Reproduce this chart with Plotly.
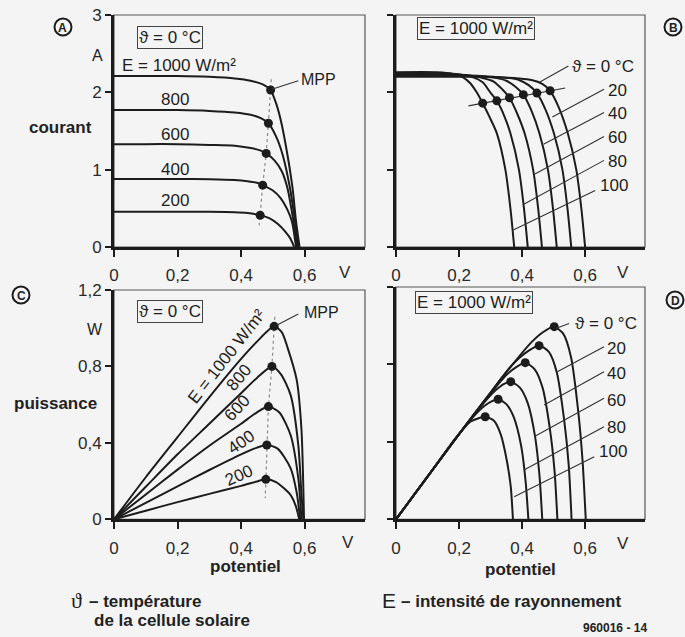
import plotly.graph_objects as go

FONT = "Liberation Sans, Arial, Helvetica, sans-serif"
BG = "#f4f4f4"
INK = "#1c1c1c"
W, H = 685, 637

# ---------------- Panel A : current vs voltage, theta = 0 °C ----------------
a_labels = ["E = 1000 W/m²", "800", "600", "400", "200"]
a_v_1000 = [0, 0.1, 0.2, 0.3, 0.38, 0.43, 0.47, 0.493, 0.51, 0.526, 0.546, 0.562, 0.573, 0.584]
a_i_1000 = [2.21, 2.21, 2.21, 2.2, 2.18, 2.15, 2.1, 2.03, 1.86, 1.62, 1.19, 0.76, 0.33, 0]
a_v_800 = [0, 0.1, 0.2, 0.3, 0.38, 0.43, 0.465, 0.486, 0.51, 0.531, 0.554, 0.57, 0.58]
a_i_800 = [1.77, 1.77, 1.77, 1.76, 1.74, 1.71, 1.66, 1.6, 1.43, 1.19, 0.76, 0.33, 0]
a_v_600 = [0, 0.1, 0.2, 0.3, 0.38, 0.43, 0.46, 0.479, 0.505, 0.528, 0.546, 0.565, 0.577]
a_i_600 = [1.33, 1.33, 1.33, 1.32, 1.31, 1.28, 1.25, 1.21, 1.12, 0.98, 0.76, 0.33, 0]
a_v_400 = [0, 0.1, 0.2, 0.3, 0.38, 0.42, 0.45, 0.468, 0.5, 0.525, 0.545, 0.56, 0.573]
a_i_400 = [0.88, 0.88, 0.88, 0.875, 0.865, 0.85, 0.83, 0.80, 0.73, 0.63, 0.49, 0.33, 0]
a_v_200 = [0, 0.1, 0.2, 0.3, 0.38, 0.42, 0.46, 0.49, 0.515, 0.539, 0.555, 0.567]
a_i_200 = [0.457, 0.457, 0.457, 0.455, 0.45, 0.44, 0.41, 0.37, 0.3, 0.2, 0.11, 0]
a_mpp_v = [0.493, 0.486, 0.479, 0.468, 0.46]
a_mpp_i = [2.03, 1.6, 1.21, 0.80, 0.41]
a_locus_v = [0.495, 0.493, 0.486, 0.479, 0.468, 0.46, 0.457]
a_locus_i = [2.17, 2.03, 1.6, 1.21, 0.80, 0.41, 0.28]

# ---------------- Panel B : current vs voltage, E = 1000 W/m² ----------------
b_labels = ["ϑ = 0 °C", "20", "40", "60", "80", "100"]
b_v_0 = [0, 0.25, 0.35, 0.39, 0.43, 0.464, 0.489, 0.517, 0.545, 0.572, 0.588, 0.6]
b_i_0 = [2.20, 2.20, 2.19, 2.18, 2.16, 2.11, 2.02, 1.8, 1.47, 1.0, 0.5, 0]
b_v_20 = [0, 0.22, 0.31, 0.35, 0.39, 0.422, 0.447, 0.474, 0.501, 0.528, 0.544, 0.556]
b_i_20 = [2.21, 2.21, 2.2, 2.19, 2.16, 2.09, 1.99, 1.78, 1.47, 1.0, 0.5, 0]
b_v_40 = [0, 0.2, 0.27, 0.31, 0.35, 0.38, 0.404, 0.43, 0.455, 0.482, 0.498, 0.51]
b_i_40 = [2.22, 2.22, 2.21, 2.19, 2.15, 2.07, 1.97, 1.76, 1.47, 1.0, 0.5, 0]
b_v_60 = [0, 0.17, 0.23, 0.27, 0.31, 0.337, 0.36, 0.385, 0.408, 0.435, 0.451, 0.463]
b_i_60 = [2.23, 2.23, 2.22, 2.19, 2.14, 2.04, 1.93, 1.72, 1.47, 1.0, 0.5, 0]
b_v_80 = [0, 0.15, 0.2, 0.24, 0.275, 0.299, 0.32, 0.343, 0.363, 0.39, 0.406, 0.418]
b_i_80 = [2.245, 2.245, 2.235, 2.2, 2.13, 2.0, 1.89, 1.7, 1.47, 1.0, 0.5, 0]
b_v_100 = [0, 0.13, 0.18, 0.21, 0.235, 0.256, 0.275, 0.297, 0.32, 0.347, 0.363, 0.375]
b_i_100 = [2.26, 2.26, 2.24, 2.2, 2.12, 2.0, 1.86, 1.68, 1.47, 1.0, 0.5, 0]
b_mpp_v = [0.489, 0.447, 0.404, 0.36, 0.32, 0.275]
b_mpp_i = [2.02, 1.99, 1.97, 1.93, 1.89, 1.86]
b_locus_v = [0.23, 0.537]
b_locus_i = [1.826, 2.056]

# ---------------- Panel C : power vs voltage, theta = 0 °C ----------------
c_labels = ["E = 1000 W/m²", "800", "600", "400", "200"]
c_v_1000 = [0, 0.1, 0.2, 0.3, 0.4, 0.45, 0.504, 0.528, 0.546, 0.575, 0.59, 0.598]
c_p_1000 = [0, 0.22, 0.43, 0.64, 0.84, 0.93, 1.01, 0.98, 0.9, 0.73, 0.47, 0]
c_v_800 = [0, 0.1, 0.2, 0.3, 0.4, 0.45, 0.497, 0.525, 0.556, 0.58, 0.59, 0.596]
c_p_800 = [0, 0.17, 0.34, 0.5, 0.66, 0.74, 0.80, 0.76, 0.65, 0.39, 0.13, 0]
c_v_600 = [0, 0.1, 0.2, 0.3, 0.4, 0.45, 0.486, 0.52, 0.556, 0.58, 0.59]
c_p_600 = [0, 0.13, 0.26, 0.385, 0.5, 0.56, 0.59, 0.56, 0.44, 0.215, 0]
c_v_400 = [0, 0.1, 0.2, 0.3, 0.4, 0.45, 0.481, 0.515, 0.556, 0.575, 0.586]
c_p_400 = [0, 0.086, 0.172, 0.258, 0.34, 0.375, 0.389, 0.37, 0.267, 0.14, 0]
c_v_200 = [0, 0.1, 0.2, 0.3, 0.4, 0.45, 0.478, 0.51, 0.556, 0.572, 0.583]
c_p_200 = [0, 0.045, 0.09, 0.133, 0.175, 0.198, 0.209, 0.195, 0.127, 0.07, 0]
c_mpp_v = [0.504, 0.497, 0.486, 0.481, 0.478]
c_mpp_p = [1.01, 0.80, 0.59, 0.389, 0.209]
c_locus_v = [0.506, 0.504, 0.497, 0.486, 0.481, 0.478, 0.476]
c_locus_p = [1.06, 1.01, 0.80, 0.59, 0.389, 0.209, 0.11]

# ---------------- Panel D : power vs voltage, E = 1000 W/m² ----------------
d_labels = ["ϑ = 0 °C", "20", "40", "60", "80", "100"]
d_v_0 = [0, 0.1, 0.2, 0.3, 0.38, 0.43, 0.465, 0.50, 0.53, 0.555, 0.578, 0.592, 0.602]
d_p_0 = [0, 0.22, 0.44, 0.655, 0.82, 0.915, 0.965, 0.995, 0.96, 0.84, 0.56, 0.3, 0]
d_v_20 = [0, 0.1, 0.2, 0.3, 0.37, 0.42, 0.454, 0.485, 0.51, 0.533, 0.548, 0.557]
d_p_20 = [0, 0.22, 0.44, 0.655, 0.8, 0.87, 0.897, 0.865, 0.76, 0.52, 0.28, 0]
d_v_40 = [0, 0.1, 0.2, 0.3, 0.35, 0.385, 0.41, 0.44, 0.465, 0.488, 0.503, 0.512]
d_p_40 = [0, 0.22, 0.44, 0.65, 0.745, 0.79, 0.809, 0.775, 0.68, 0.47, 0.25, 0]
d_v_60 = [0, 0.1, 0.2, 0.27, 0.315, 0.343, 0.364, 0.393, 0.418, 0.441, 0.455, 0.464]
d_p_60 = [0, 0.22, 0.44, 0.585, 0.665, 0.70, 0.711, 0.68, 0.6, 0.43, 0.23, 0]
d_v_80 = [0, 0.1, 0.2, 0.24, 0.28, 0.305, 0.324, 0.35, 0.373, 0.397, 0.411, 0.42]
d_p_80 = [0, 0.22, 0.44, 0.52, 0.585, 0.61, 0.62, 0.595, 0.53, 0.38, 0.2, 0]
d_v_100 = [0, 0.1, 0.18, 0.21, 0.237, 0.262, 0.283, 0.31, 0.332, 0.352, 0.364, 0.371]
d_p_100 = [0, 0.22, 0.4, 0.46, 0.505, 0.522, 0.53, 0.51, 0.44, 0.3, 0.17, 0]
d_mpp_v = [0.502, 0.454, 0.41, 0.364, 0.324, 0.283]
d_mpp_p = [0.995, 0.897, 0.809, 0.711, 0.62, 0.53]

# axis tick values / labels
x_tickvals = [0, 0.2, 0.4, 0.6]
x_ticktext = ["0", "0,2", "0,4", "0,6"]
ia_tickvals = [0, 1, 2, 3]
ia_ticktext = ["0", "1", "2", "3"]
pc_tickvals = [0, 0.4, 0.8, 1.2]
pc_ticktext = ["0", "0,4", "0,8", "1,2"]

fig = go.Figure()


def curve(x, y, ax):
    fig.add_trace(go.Scatter(
        x=x, y=y, mode="lines", xaxis="x" + ax, yaxis="y" + ax,
        line=dict(color=INK, width=2, shape="spline", smoothing=0.7),
        showlegend=False, hoverinfo="skip"))


def dots(x, y, ax):
    fig.add_trace(go.Scatter(
        x=x, y=y, mode="markers", xaxis="x" + ax, yaxis="y" + ax,
        marker=dict(color=INK, size=9), showlegend=False, hoverinfo="skip"))


def locus(x, y, ax, dash="dot", color="#8a8a8a"):
    fig.add_trace(go.Scatter(
        x=x, y=y, mode="lines", xaxis="x" + ax, yaxis="y" + ax,
        line=dict(color=color, width=1.2, dash=dash),
        showlegend=False, hoverinfo="skip"))


# panel A
locus(a_locus_v, a_locus_i, "")
for v, i in [(a_v_1000, a_i_1000), (a_v_800, a_i_800), (a_v_600, a_i_600),
             (a_v_400, a_i_400), (a_v_200, a_i_200)]:
    curve(v, i, "")
dots(a_mpp_v, a_mpp_i, "")

# panel B
locus(b_locus_v, b_locus_i, "2", dash="solid", color="#333333")
for v, i in [(b_v_0, b_i_0), (b_v_20, b_i_20), (b_v_40, b_i_40),
             (b_v_60, b_i_60), (b_v_80, b_i_80), (b_v_100, b_i_100)]:
    curve(v, i, "2")
dots(b_mpp_v, b_mpp_i, "2")

# panel C
locus(c_locus_v, c_locus_p, "3")
for v, p in [(c_v_1000, c_p_1000), (c_v_800, c_p_800), (c_v_600, c_p_600),
             (c_v_400, c_p_400), (c_v_200, c_p_200)]:
    curve(v, p, "3")
dots(c_mpp_v, c_mpp_p, "3")

# panel D
for v, p in [(d_v_0, d_p_0), (d_v_20, d_p_20), (d_v_40, d_p_40),
             (d_v_60, d_p_60), (d_v_80, d_p_80), (d_v_100, d_p_100)]:
    curve(v, p, "4")
dots(d_mpp_v, d_mpp_p, "4")

# ---------------- layout ----------------
xdomA = [114 / W, 365 / W]
xdomB = [396 / W, 645 / W]
ydomTop = [1 - 247 / H, 1 - 15 / H]
ydomC = [1 - 519.3 / H, 1 - 290 / H]
ydomD = [1 - 519.3 / H, 1 - 287 / H]


def xaxis(dom, anchor):
    return dict(domain=dom, anchor=anchor, range=[0, 0.79], showgrid=False, zeroline=False,
                showline=True, linewidth=3, linecolor=INK, ticks="outside", ticklen=7,
                tickwidth=1.5, tickcolor=INK, tickvals=x_tickvals, ticktext=x_ticktext,
                tickfont=dict(family=FONT, size=17, color="#2a2a2a"),
                ticklabelstandoff=4, fixedrange=True, automargin=False)


def yaxis(dom, anchor, rng, tv, tt):
    return dict(domain=dom, anchor=anchor, range=rng, showgrid=False, zeroline=False,
                showline=True, linewidth=3, linecolor=INK, ticks="outside", ticklen=6,
                tickwidth=1.5, tickcolor=INK, tickvals=tv, ticktext=tt,
                tickfont=dict(family=FONT, size=17, color="#2a2a2a"), fixedrange=True,
                automargin=False)


fig.update_layout(
    width=W, height=H, autosize=False,
    margin=dict(l=0, r=0, t=0, b=0, pad=0),
    paper_bgcolor=BG, plot_bgcolor=BG,
    font=dict(family=FONT, color="#222222"),
    xaxis=xaxis(xdomA, "y"),
    yaxis=yaxis(ydomTop, "x", [0, 3], ia_tickvals, ia_ticktext),
    xaxis2=xaxis(xdomB, "y2"),
    yaxis2=yaxis(ydomTop, "x2", [0, 3], ia_tickvals, ["", "", "", ""]),
    xaxis3=xaxis(xdomA, "y3"),
    yaxis3=yaxis(ydomC, "x3", [0, 1.2], pc_tickvals, pc_ticktext),
    xaxis4=xaxis(xdomB, "y4"),
    yaxis4=yaxis(ydomD, "x4", [0, 1.2], pc_tickvals, ["", "", "", ""]),
)

shapes = []
# thin frames on top/right
for ax in ["x", "x2", "x3", "x4"]:
    ya = ax.replace("x", "y")
    shapes.append(dict(type="rect", xref=ax + " domain", yref=ya + " domain",
                       x0=0, x1=1, y0=0, y1=1, line=dict(color="#555555", width=1.2),
                       layer="below"))


def seg(ax, x0, y0, x1, y1):
    ya = ax.replace("x", "y")
    shapes.append(dict(type="line", xref=ax, yref=ya, x0=x0, y0=y0, x1=x1, y1=y1,
                       line=dict(color="#333333", width=1.1)))


# leader lines
seg("x", 0.58, 2.15, 0.497, 2.04)
seg("x2", 0.547, 2.34, 0.455, 2.13)
seg("x2", 0.66, 2.04, 0.496, 1.68)
seg("x2", 0.66, 1.74, 0.468, 1.33)
seg("x2", 0.66, 1.43, 0.441, 0.944)
seg("x2", 0.66, 1.12, 0.404, 0.55)
seg("x2", 0.632, 0.73, 0.372, 0.22)
seg("x3", 0.58, 1.075, 0.512, 1.015)
seg("x4", 0.549, 1.012, 0.507, 0.986)
seg("x4", 0.66, 0.891, 0.512, 0.762)
seg("x4", 0.66, 0.762, 0.47, 0.59)
seg("x4", 0.66, 0.625, 0.438, 0.426)
seg("x4", 0.66, 0.478, 0.406, 0.255)
seg("x4", 0.629, 0.323, 0.375, 0.117)

# circled panel letters
for cx, cy in [(63, 27), (673, 27), (21, 295), (675, 300)]:
    shapes.append(dict(type="circle", xref="paper", yref="paper",
                       x0=(cx - 8.5) / W, x1=(cx + 8.5) / W,
                       y0=1 - (cy + 8.5) / H, y1=1 - (cy - 8.5) / H,
                       line=dict(color=INK, width=2)))

fig.update_layout(shapes=shapes)

ann = []


def ptext(text, x, y, size=17, bold=False, xanchor="center", family=FONT, color="#222222"):
    t = "<b>" + text + "</b>" if bold else text
    ann.append(dict(text=t, x=x / W, y=1 - y / H, xref="paper", yref="paper",
                    showarrow=False, xanchor=xanchor, yanchor="middle",
                    font=dict(family=family, size=size, color=color)))


def dtext(ax, text, x, y, size=17, xanchor="center", angle=0, box=False):
    ya = ax.replace("x", "y")
    d = dict(text=text, x=x, y=y, xref=ax, yref=ya, showarrow=False,
             xanchor=xanchor, yanchor="middle", textangle=angle,
             font=dict(family=FONT, size=size, color="#1e1e1e"))
    if box:
        d.update(bordercolor="#444444", borderwidth=1, borderpad=1, bgcolor=BG)
    ann.append(d)


# letters in circles
for letter, cx, cy in [("A", 63, 27), ("B", 673, 27), ("C", 21, 295), ("D", 675, 300)]:
    ptext(letter, cx, cy + 0.5, size=12, bold=True)

# axis captions
ptext("A", 98, 55, size=16)
ptext("courant", 60, 128, size=17, bold=True)
ptext("W", 95, 330, size=16)
ptext("puissance", 55, 403, size=17, bold=True)
ptext("potentiel", 245, 566, size=17, bold=True)
ptext("potentiel", 520, 569, size=17, bold=True)
for vx, vy in [(345, 272), (623, 272), (348, 542), (623, 543)]:
    ptext("V", vx, vy, size=17, color="#2a2a2a")

# footer
ptext("ϑ", 76, 600, size=22, family="Liberation Serif, DejaVu Serif, serif")
ptext("– température", 87, 601, size=17, bold=True, xanchor="left")
ptext("de la cellule solaire", 92, 620, size=17, bold=True, xanchor="left")
ptext("E", 389, 600, size=21)
ptext("– intensité de rayonnement", 399, 601, size=17, bold=True, xanchor="left")
ptext("960016 - 14", 615, 628, size=12, bold=True)

# panel A texts
dtext("x", "ϑ = 0 °C", 0.176, 2.71, box=True)
dtext("x", a_labels[0], 0.019, 2.35, xanchor="left")
for lab, yy in zip(a_labels[1:], [1.91, 1.45, 1.0, 0.595]):
    dtext("x", lab, 0.192, yy)
dtext("x", "MPP", 0.583, 2.16, size=16, xanchor="left")

# panel B texts
dtext("x2", "E = 1000 W/m²", 0.254, 2.83, box=True)
dtext("x2", b_labels[0], 0.552, 2.33, xanchor="left")
for lab, yy in zip(b_labels[1:5], [2.02, 1.72, 1.41, 1.10]):
    dtext("x2", lab, 0.667, yy, xanchor="left")
dtext("x2", b_labels[5], 0.642, 0.79, xanchor="left")

# panel C texts
dtext("x3", "ϑ = 0 °C", 0.175, 1.09, box=True)
for lab, xx, yy, ang in zip(c_labels, [0.355, 0.394, 0.386, 0.399, 0.394],
                            [0.851, 0.741, 0.581, 0.403, 0.227], [-52, -50, -47, -35, -24]):
    dtext("x3", lab, xx, yy, angle=ang)
dtext("x3", "MPP", 0.591, 1.084, size=16, xanchor="left")

# panel D texts
dtext("x4", "E = 1000 W/m²", 0.246, 1.122, box=True)
dtext("x4", d_labels[0], 0.56, 1.012, xanchor="left")
for lab, yy in zip(d_labels[1:5], [0.883, 0.754, 0.616, 0.475]):
    dtext("x4", lab, 0.663, yy, xanchor="left")
dtext("x4", d_labels[5], 0.639, 0.349, xanchor="left")

fig.update_layout(annotations=ann)

fig.write_html(
    "out.html",
    config={"displayModeBar": False},
    post_script="document.body.style.margin='0';document.body.style.background='" + BG + "';",
)
